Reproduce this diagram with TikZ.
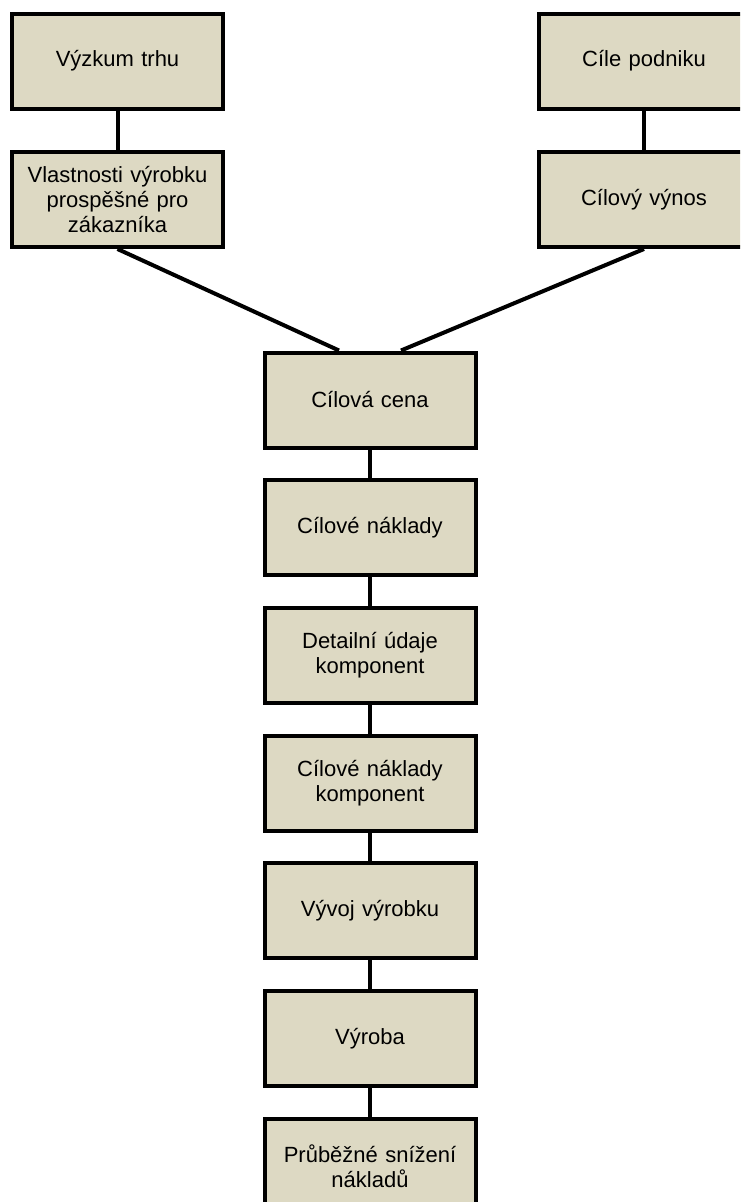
\documentclass[tikz,border=0pt]{standalone}
\usepackage{fontspec}
\setmainfont{Liberation Sans}
\definecolor{boxfill}{RGB}{221,217,195}
\begin{document}
\begin{tikzpicture}[x=1pt,y=1pt,
  stage/.style={draw=black, fill=boxfill, line width=4pt, rectangle,
    minimum width=211pt, minimum height=95pt, inner sep=2pt,
    align=center, text width=205pt,
    font=\fontsize{22}{25}\selectfont},
  link/.style={draw=black, line width=4pt}]
  \useasboundingbox (0,0) rectangle (740,-1202);
  \clip (0,0) rectangle (740,-1202);

  % two source columns
  \node[stage] (vyzkum)  at (117.5,-61) {Výzkum trhu};
  \node[stage] (vlast)   at (117.5,-199.5)  {Vlastnosti výrobku\\prospěšné pro\\zákazníka};
  \node[stage] (cile)    at (644,-61)   {Cíle podniku};
  \node[stage] (vynos)   at (644,-199.5)    {Cílový výnos};

  % central chain
  \node[stage] (cena)    at (370,-400)    {Cílová cena};
  \node[stage] (naklady) at (370,-527.7)  {Cílové náklady};
  \node[stage] (detail)  at (370,-655.3)  {Detailní údaje\\komponent};
  \node[stage] (komp)    at (370,-783)    {Cílové náklady\\komponent};
  \node[stage] (vyvoj)   at (370,-910.7)  {Vývoj výrobku};
  \node[stage] (vyroba)  at (370,-1038.3) {Výroba};
  \node[stage] (snizeni) at (370,-1166)   {Průběžné snížení\\nákladů};

  % connectors
  \draw[link] (vyzkum.south) -- (vlast.north);
  \draw[link] (cile.south) -- (vynos.north);
  \draw[link] (vlast.south) -- ([xshift=-31pt]cena.north);
  \draw[link] (vynos.south) -- ([xshift=31pt]cena.north);
  \draw[link] (cena.south) -- (naklady.north);
  \draw[link] (naklady.south) -- (detail.north);
  \draw[link] (detail.south) -- (komp.north);
  \draw[link] (komp.south) -- (vyvoj.north);
  \draw[link] (vyvoj.south) -- (vyroba.north);
  \draw[link] (vyroba.south) -- (snizeni.north);
\end{tikzpicture}
\end{document}
